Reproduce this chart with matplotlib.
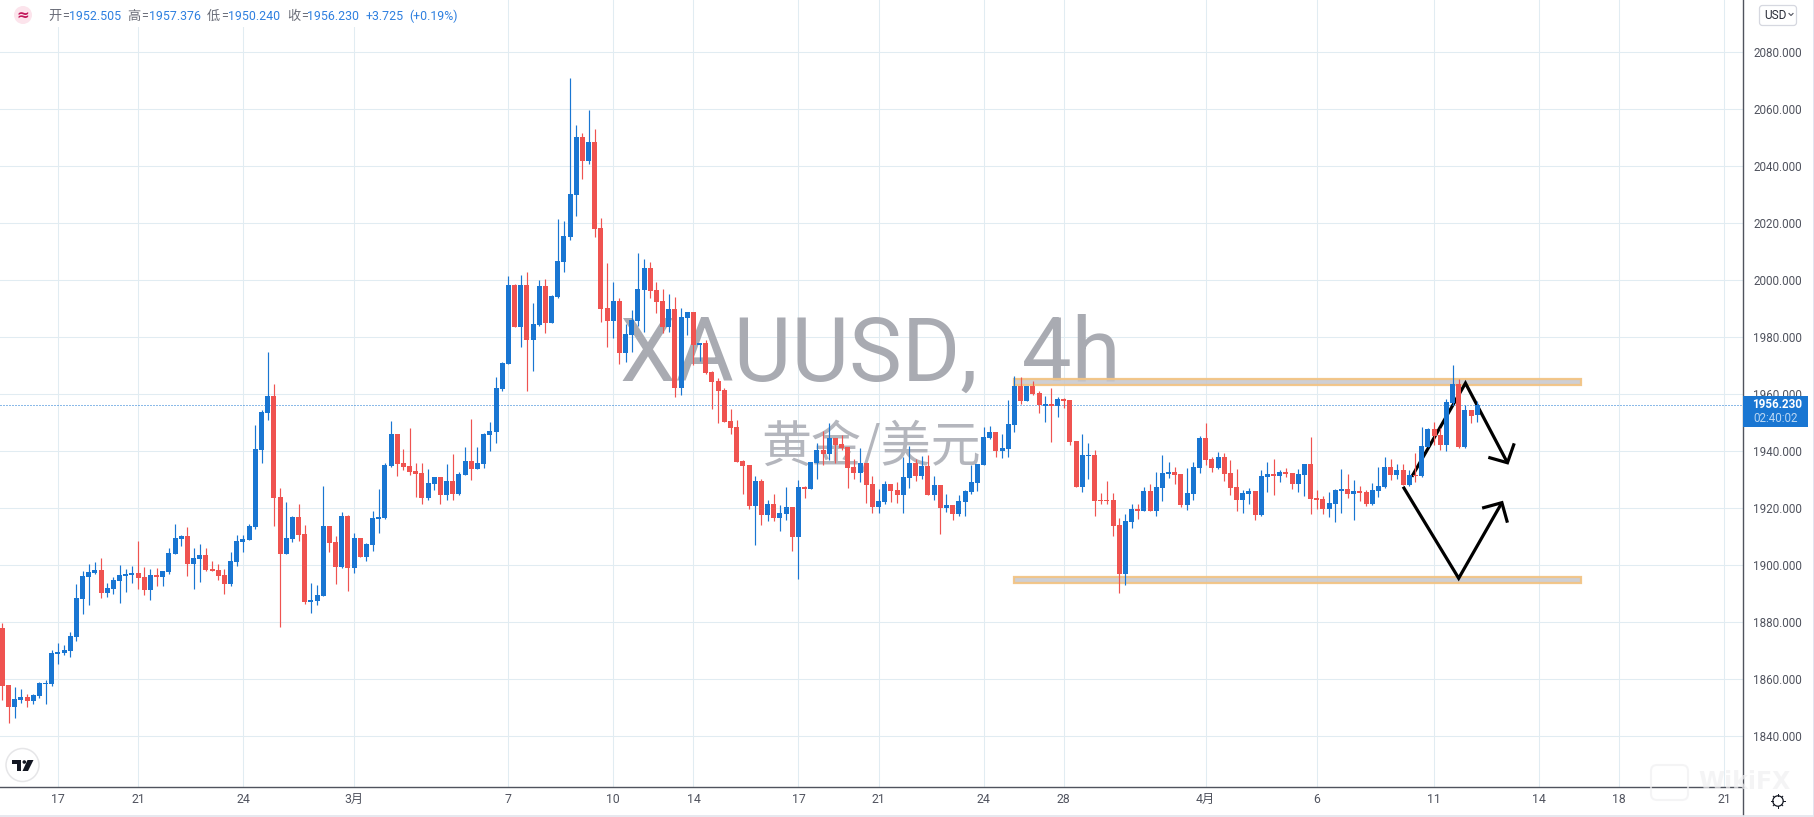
import numpy as np
import matplotlib
matplotlib.use("Agg")
import matplotlib.pyplot as plt
from matplotlib.patches import Circle, FancyBboxPatch, Polygon, Rectangle

# 4h bars
opens = [1878.0,1858.0,1850.4,1852.7,1853.8,1852.5,1854.2,1858.4,1858.4,1869.0,
1869.2,1870.0,1874.8,1888.2,1896.0,1897.2,1898.3,1890.3,1891.6,1894.5,
1896.3,1896.7,1897.2,1895.8,1891.4,1896.5,1896.0,1897.7,1904.0,1909.3,
1910.2,1900.5,1902.3,1903.5,1898.6,1898.3,1896.5,1893.5,1901.2,1908.2,
1908.9,1913.5,1940.5,1953.4,1959.3,1923.9,1904.0,1909.3,1916.9,1910.9,
1887.2,1887.5,1889.3,1913.7,1908.1,1899.5,1917.2,1899.1,1909.5,1903.0,
1907.2,1916.3,1916.6,1934.8,1945.9,1935.8,1934.7,1933.0,1932.3,1923.5,
1928.4,1930.9,1924.6,1929.5,1924.9,1931.6,1936.5,1933.7,1935.4,1945.6,
1946.7,1961.8,1970.6,1998.2,1983.6,1998.2,1979.1,1984.2,1997.9,1985.0,
1994.1,2006.4,2015.2,2029.9,2050.1,2041.8,2048.4,2018.2,1990.1,1985.7,
1992.6,1974.5,1980.8,1985.7,1996.6,2004.2,1996.5,1992.6,1983.6,1989.8,
1962.2,1986.8,1988.8,1977.3,1977.9,1967.7,1964.6,1961.4,1950.5,1948.4,
1936.5,1935.1,1920.8,1929.5,1917.7,1921.4,1916.6,1918.0,1920.4,1910.0,
1927.4,1926.8,1935.9,1940.3,1938.9,1944.5,1942.4,1941.4,1934.5,1932.4,
1935.8,1928.4,1920.5,1922.2,1928.4,1926.3,1924.7,1930.6,1935.8,1931.3,
1934.7,1924.7,1928.1,1920.1,1921.1,1918.0,1922.2,1925.7,1928.9,1935.2,
1944.7,1946.6,1940.1,1940.8,1949.2,1962.8,1957.6,1962.8,1960.3,1955.9,
1956.4,1955.9,1958.2,1957.9,1943.5,1927.5,1938.3,1938.6,1922.7,1922.8,
1922.8,1914.0,1897.0,1915.2,1919.7,1919.0,1926.0,1919.0,1927.1,1932.0,
1932.6,1931.9,1921.1,1925.0,1934.1,1944.5,1937.2,1934.0,1937.9,1932.3,
1927.4,1922.9,1925.0,1926.0,1917.7,1931.0,1931.9,1931.3,1932.6,1932.3,
1928.5,1931.7,1935.4,1923.4,1923.2,1919.8,1921.5,1926.1,1926.7,1925.0,
1926.0,1925.6,1921.5,1926.1,1927.5,1934.4,1931.7,1933.3,1928.2,1931.6,
1931.3,1941.5,1947.7,1945.6,1942.2,1956.9,1963.5,1941.5,1954.4,1952.505]

highs = [1879.6,1858.0,1857.3,1856.6,1854.8,1854.8,1859.0,1859.7,1870.2,1872.7,
1872.0,1876.6,1893.4,1897.9,1900.4,1901.1,1902.5,1893.7,1895.8,1900.0,
1898.6,1899.7,1908.5,1899.3,1898.6,1899.0,1897.9,1906.0,1914.4,1910.7,
1913.4,1906.0,1907.4,1906.0,1901.4,1900.4,1898.6,1904.6,1910.6,1910.6,
1914.4,1949.1,1954.4,1974.7,1963.5,1927.0,1922.1,1917.2,1921.4,1914.1,
1893.7,1893.0,1927.7,1913.7,1910.2,1918.6,1917.6,1911.3,1909.5,1907.8,
1919.0,1926.7,1935.8,1950.5,1945.9,1940.7,1948.0,1935.8,1935.8,1933.7,
1930.9,1930.9,1935.4,1938.9,1932.6,1941.4,1951.2,1941.4,1946.3,1950.2,
1966.0,1971.2,2001.4,1998.6,2001.7,2002.8,1991.9,2000.0,2000.3,1994.7,
2021.4,2020.7,2070.8,2054.3,2051.5,2059.6,2052.9,2021.7,2005.9,1999.3,
1993.7,1984.5,1989.5,2009.4,2007.3,2006.3,1999.3,1996.8,1995.1,1994.0,
1990.2,1988.8,1988.8,1977.9,1978.9,1968.1,1965.6,1962.1,1954.7,1950.9,
1936.8,1935.1,1931.3,1930.2,1922.8,1924.9,1921.1,1927.4,1920.4,1929.8,
1927.7,1936.1,1942.8,1947.0,1949.8,1944.5,1945.6,1941.4,1937.2,1941.0,
1935.8,1931.3,1926.7,1929.5,1928.4,1929.1,1937.9,1941.7,1937.2,1938.2,
1938.6,1931.3,1928.1,1924.9,1921.1,1924.6,1926.3,1935.1,1935.4,1948.4,
1948.8,1946.6,1945.9,1957.9,1966.3,1965.9,1962.8,1964.5,1961.0,1959.3,
1962.1,1958.9,1958.6,1957.9,1943.5,1945.9,1942.8,1940.3,1925.3,1929.5,
1925.3,1916.5,1917.9,1921.4,1921.4,1927.4,1928.4,1932.6,1938.6,1936.1,
1934.4,1931.9,1934.0,1936.1,1945.2,1949.8,1937.9,1939.6,1939.3,1936.8,
1933.7,1926.3,1927.0,1926.0,1933.3,1936.1,1937.2,1933.3,1934.0,1932.3,
1933.7,1935.4,1944.9,1926.3,1924.2,1925.6,1926.7,1933.7,1931.9,1929.8,
1927.7,1926.3,1928.8,1934.4,1937.9,1937.2,1935.4,1935.4,1933.3,1939.3,
1948.4,1948.1,1950.2,1948.1,1958.2,1970.1,1965.2,1956.1,1954.4,1957.376]

lows = [1852.7,1844.8,1846.5,1851.8,1850.4,1851.3,1853.5,1851.4,1857.7,1865.5,
1868.6,1867.9,1873.5,1883.0,1886.1,1896.9,1888.6,1888.9,1890.0,1886.8,
1890.6,1893.9,1891.6,1889.6,1887.9,1892.8,1892.8,1897.0,1904.0,1906.8,
1896.3,1891.7,1894.2,1898.1,1898.1,1894.9,1890.0,1892.8,1899.8,1904.7,
1908.9,1912.8,1935.9,1951.0,1913.8,1878.4,1904.0,1908.2,1908.6,1886.5,
1883.3,1886.1,1889.3,1904.7,1893.5,1899.1,1891.0,1897.4,1903.0,1901.6,
1905.1,1911.4,1916.3,1934.4,1931.2,1933.3,1931.6,1924.0,1921.6,1922.8,
1926.3,1921.6,1922.8,1922.8,1924.6,1931.6,1929.8,1933.7,1934.0,1940.0,
1942.8,1961.1,1970.6,1983.6,1976.6,1961.1,1968.1,1983.8,1981.4,1985.0,
1993.7,2002.9,2014.1,2022.5,2035.4,2040.8,2015.2,1985.4,1976.6,1979.8,
1970.6,1971.3,1974.8,1984.0,1981.9,1993.8,1988.5,1981.5,1981.9,1959.1,
1959.8,1980.7,1970.3,1971.7,1967.1,1954.9,1950.0,1950.3,1945.9,1936.2,
1925.0,1919.8,1907.1,1914.2,1915.6,1915.6,1912.1,1915.9,1905.0,1895.2,
1923.6,1926.8,1930.3,1935.2,1936.9,1935.8,1940.3,1927.1,1930.3,1929.2,
1921.9,1918.4,1918.4,1921.5,1922.2,1921.9,1918.4,1927.1,1929.6,1930.3,
1924.7,1922.9,1911.0,1918.7,1915.9,1917.3,1917.3,1925.0,1926.1,1935.2,
1944.3,1938.0,1937.6,1938.0,1946.8,1956.6,1957.6,1959.7,1953.4,1950.3,
1943.3,1952.0,1955.2,1942.2,1927.5,1925.7,1930.2,1917.3,1921.6,1921.5,
1910.3,1890.3,1893.1,1913.1,1916.1,1919.0,1919.0,1917.3,1922.6,1930.6,
1928.5,1920.5,1919.4,1922.9,1932.4,1935.1,1932.7,1933.7,1929.6,1924.7,
1919.0,1918.4,1921.5,1915.9,1917.3,1925.7,1924.7,1929.2,1931.0,1926.8,
1925.7,1924.3,1918.0,1919.8,1918.0,1917.0,1915.2,1918.4,1923.6,1915.9,
1922.5,1920.8,1921.2,1924.0,1927.1,1930.0,1930.3,1928.2,1927.9,1929.2,
1931.0,1941.3,1942.1,1940.3,1940.1,1956.2,1941.2,1941.2,1949.9,1950.24]

closes = [1857.7,1850.4,1853.1,1853.8,1852.5,1854.5,1858.7,1858.7,1869.2,1869.5,
1870.2,1875.1,1888.5,1896.2,1897.6,1898.3,1890.3,1892.0,1894.8,1896.5,
1896.9,1897.2,1895.6,1891.4,1896.5,1896.0,1897.9,1904.2,1909.5,1910.2,
1900.5,1902.5,1903.5,1898.4,1898.1,1896.3,1893.5,1901.4,1908.5,1909.2,
1913.7,1940.7,1953.7,1959.3,1923.6,1904.0,1909.5,1916.9,1910.7,1887.2,
1887.8,1889.5,1913.7,1907.9,1899.5,1917.2,1899.1,1909.5,1903.0,1907.4,
1916.5,1916.9,1935.1,1946.0,1935.4,1934.4,1932.6,1931.9,1923.5,1928.8,
1930.9,1924.6,1929.5,1924.9,1931.9,1936.5,1933.7,1935.8,1945.9,1947.0,
1962.1,1970.9,1998.2,1983.6,1998.2,1979.1,1984.5,1997.9,1985.0,1994.4,
2006.6,2015.4,2030.1,2050.1,2041.8,2048.4,2018.0,1989.9,1985.7,1992.6,
1974.5,1981.0,1985.9,1996.8,2004.2,1996.2,1992.4,1983.6,1989.8,1962.2,
1987.0,1988.8,1977.3,1977.9,1967.5,1964.3,1961.2,1950.3,1948.2,1936.2,
1934.8,1920.8,1929.5,1917.7,1921.4,1916.6,1918.2,1920.4,1910.0,1927.4,
1926.8,1936.1,1940.3,1938.9,1944.5,1942.1,1941.0,1934.1,1932.4,1935.8,
1928.2,1920.5,1922.5,1928.4,1926.1,1924.7,1930.9,1935.8,1931.3,1934.7,
1924.7,1928.1,1920.1,1921.1,1918.0,1922.5,1926.0,1929.1,1935.4,1944.9,
1946.6,1940.1,1941.0,1949.5,1962.8,1957.6,1962.8,1960.1,1956.0,1956.5,
1955.9,1958.2,1957.6,1943.3,1927.5,1938.6,1938.6,1922.6,1922.4,1922.4,
1913.8,1897.0,1915.4,1919.7,1919.0,1926.0,1919.0,1927.4,1932.3,1932.6,
1931.7,1921.1,1925.3,1934.4,1944.5,1936.9,1934.0,1937.9,1932.0,1927.1,
1922.9,1925.3,1926.0,1917.7,1931.3,1931.9,1931.3,1932.6,1932.0,1928.5,
1931.9,1935.4,1923.3,1922.9,1919.8,1921.8,1926.3,1926.7,1925.0,1926.0,
1925.4,1921.5,1926.3,1927.7,1934.4,1931.7,1933.3,1928.2,1931.6,1931.3,
1941.7,1947.7,1945.3,1942.2,1957.2,1963.5,1941.5,1954.4,1952.4,1956.23]

date_ticks = [9, 22, 39, 57, 82, 99, 112, 129, 142, 159, 172, 195, 213, 232, 249, 262, 279]
date_labels = ["17", "21", "24", "3月", "7", "10", "14", "17", "21", "24", "28", "4月", "6", "11", "14", "18", "21"]
price_ticks = [1840, 1860, 1880, 1900, 1920, 1940, 1960, 1980, 2000, 2020, 2040, 2060, 2080]
last_price = 1956.23

# hand drawn zones and arrows, in bar number and price
zone_upper = [1963.0, 1965.1]
zone_lower = [1893.9, 1896.0]
zone_bars = [164, 255.9]
arrow_a_x = [228.4, 237.1, 243.9]
arrow_a_y = [1931.0, 1963.8, 1935.9]
arrow_a_head_x = [240.8, 243.9, 245.0]
arrow_a_head_y = [1937.8, 1935.9, 1942.7]
arrow_b_x = [227.0, 236.0, 243.0]
arrow_b_y = [1927.5, 1895.4, 1921.9]
arrow_b_head_x = [239.8, 243.0, 243.9]
arrow_b_head_y = [1920.0, 1921.9, 1914.9]

W, H = 1815, 817
PANEL_R = 1743.5   # right edge of the plot in pixels
PANEL_B = 787.0    # bottom edge of the plot in pixels
BAR_STEP = 6.171
BLUE = "#1976d2"
RED = "#ef5350"
GRID = "#e1ecf2"
AXIS = "#50535e"
TEXT = "#50535e"
FONTS = ["Roboto", "Noto Sans CJK SC", "DejaVu Sans"]
CJK = ["Noto Sans CJK SC", "DejaVu Sans"]

plt.rcParams["font.family"] = FONTS
fig = plt.figure(figsize=(W / 100, H / 100), dpi=100, facecolor="white")
ax = fig.add_axes([0, 1 - PANEL_B / H, PANEL_R / W, PANEL_B / H])
ax.set_xlim(-2.33 / BAR_STEP, (PANEL_R - 2.33) / BAR_STEP)
ax.set_ylim(1822.23, 2098.12)

ax.set_xticks(date_ticks)
ax.set_xticklabels(date_labels)
ax.set_yticks(price_ticks)
ax.set_yticklabels(["%.3f" % p for p in price_ticks])
ax.yaxis.tick_right()
ax.tick_params(axis="y", length=0, pad=7, labelsize=8.4, labelcolor=TEXT)
ax.tick_params(axis="x", length=0, pad=4.5, labelsize=8.8, labelcolor=TEXT)
ax.grid(True, color=GRID, lw=0.75)
ax.set_axisbelow(True)
for side in ["top", "left"]:
    ax.spines[side].set_visible(False)
for side in ["right", "bottom"]:
    ax.spines[side].set_color(AXIS)
    ax.spines[side].set_linewidth(1.0)


def panel_text(px, py, s, **kw):
    # text placed in pixel position inside the plot panel
    ax.text(px / PANEL_R, 1 - py / PANEL_B, s, transform=ax.transAxes, **kw)


# watermark sits under the candles
panel_text(620, 381, "XAUUSD,  4h", fontsize=64, color="#a9abb2", va="baseline", ha="left", zorder=2)
panel_text(871, 448, "黄金/美元", fontsize=36, color="#b4b6bd", va="center", ha="center", zorder=2, family=CJK)

# zones
for zone in [zone_upper, zone_lower]:
    ax.add_patch(Rectangle((zone_bars[0], zone[0]), zone_bars[1] - zone_bars[0], zone[1] - zone[0],
                           facecolor=(0.78, 0.78, 0.80, 0.85), edgecolor=(0.95, 0.77, 0.52, 0.95),
                           lw=1.6, zorder=3))

# arrows
for xs, ys in [(arrow_a_x, arrow_a_y), (arrow_a_head_x, arrow_a_head_y),
               (arrow_b_x, arrow_b_y), (arrow_b_head_x, arrow_b_head_y)]:
    ax.plot(xs, ys, color="black", lw=2.3, solid_joinstyle="miter", solid_capstyle="butt", zorder=4)

# last price line
ax.axhline(last_price, color=BLUE, lw=0.72, linestyle=(0, (1, 2)), zorder=4.5)

# candles
bars = np.arange(len(opens))
o = np.array(opens)
h = np.array(highs)
l = np.array(lows)
c = np.array(closes)
colors = np.where(c >= o, BLUE, RED)
ax.vlines(bars, l, h, colors=colors, lw=0.85, zorder=5)
ax.bar(bars, np.abs(c - o), bottom=np.minimum(o, c), width=0.81, color=colors, linewidth=0, zorder=6)

# everything around the chart, drawn in pixel positions
ui = fig.add_axes([0, 0, 1, 1], zorder=10)
ui.set_xlim(0, W)
ui.set_ylim(H, 0)
ui.axis("off")
ui.patch.set_alpha(0)

ui.plot([PANEL_R, PANEL_R], [PANEL_B, 815], color=AXIS, lw=1.0)
ui.plot([0, W], [815.5, 815.5], color="#e3e4ec", lw=1.2)
ui.add_patch(Rectangle((1813, 0), 2, H, facecolor="#e3e3ef", edgecolor="none"))

# legend row
ui.add_patch(Rectangle((0, 0), 462, 27, facecolor="white", edgecolor="none"))
ui.add_patch(Circle((23, 15), 9, facecolor="#fce4ec", edgecolor="none"))
ui.text(23, 15, "≈", fontsize=11, color="#c2185b", ha="center", va="center", family="DejaVu Sans", weight="bold")
GREY = "#6a6d78"
VALUE = "#2f80e0"
for x, s in [(48, "开"), (127, "高"), (207, "低"), (287, "收")]:
    ui.text(x, 16.5, s, fontsize=9.5, color=GREY, ha="left", va="center", family=CJK)
    ui.text(x + 14, 16.5, "=", fontsize=9, color=GREY, ha="left", va="center")
for x, s in [(69, "1952.505"), (149, "1957.376"), (228, "1950.240"), (307, "1956.230"),
             (366, "+3.725"), (409, "(+0.19%)")]:
    ui.text(x, 16.5, s, fontsize=8.9, color=VALUE, ha="left", va="center")

# currency button
ui.add_patch(FancyBboxPatch((1759.5, 5.5), 37, 20, boxstyle="round,pad=0,rounding_size=3",
                            facecolor="white", edgecolor="#d6d8e0", lw=0.9))
ui.text(1764.5, 15, "USD", fontsize=8.6, color="#2a2e39", ha="left", va="center")
ui.plot([1789, 1791, 1793], [13.5, 15.5, 13.5], color="#50535e", lw=0.8)

# last price tag
ui.add_patch(Rectangle((PANEL_R, 396), 1807.7 - PANEL_R, 31, facecolor=BLUE, edgecolor="none"))
ui.text(1777, 404.5, "1956.230", fontsize=8.4, color="white", ha="center", va="center", weight="bold")
ui.text(1776, 418.5, "02:40:02", fontsize=8.4, color="#b9d6f3", ha="center", va="center")

# logo
ui.add_patch(Circle((22.5, 765), 16.5, facecolor="white", edgecolor="#e6e6e8", lw=1.1))
ui.add_patch(Polygon([(12, 760), (21.5, 760), (21.5, 771), (17, 771), (17, 764), (12, 764)], facecolor="#131722"))
ui.add_patch(Circle((24.3, 762), 1.8, facecolor="#131722"))
ui.add_patch(Polygon([(27.5, 760), (33.5, 760), (28, 771), (22.5, 771)], facecolor="#131722"))

# settings gear
ui.add_patch(Circle((1778, 801), 5.2, facecolor="white", edgecolor="#131722", lw=0.9))
for a in np.arange(0, 2 * np.pi, np.pi / 4):
    ui.plot([1778 + 5.2 * np.cos(a), 1778 + 6.7 * np.cos(a)], [801 + 5.2 * np.sin(a), 801 + 6.7 * np.sin(a)],
            color="#131722", lw=0.7)

# site mark in the corner
ui.add_patch(FancyBboxPatch((1651, 765), 37, 35, boxstyle="round,pad=0,rounding_size=6",
                            facecolor="none", edgecolor="#f0f0f2", lw=1.5, alpha=0.7))
ui.text(1698, 782, "WikiFX", fontsize=17, color="#f0f0f2", alpha=0.7, ha="left", va="center", weight="bold",
        family="DejaVu Sans")

fig.savefig("out.png", dpi=100)
